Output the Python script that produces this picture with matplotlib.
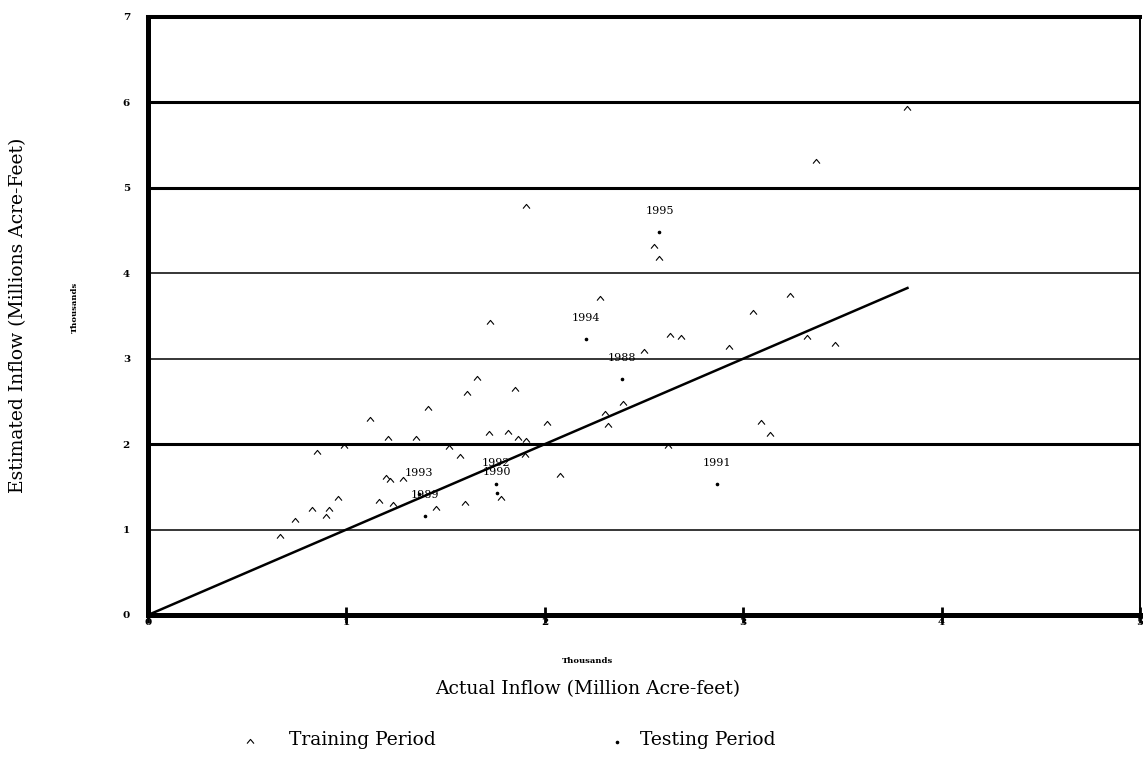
import matplotlib
matplotlib.use("Agg")
import matplotlib.pyplot as plt
from matplotlib.path import Path

# Training period: (actual, estimated) inflow, thousands of MAF
train_actual = [1.409, 1.120, 1.212, 1.350, 0.990, 0.854, 1.200, 1.218, 1.283, 0.957,
                1.162, 1.233, 0.829, 0.913, 0.896, 0.742, 0.666, 1.453,
                1.608, 1.848, 1.660, 1.717, 1.813, 1.865, 1.907, 2.011, 2.395, 2.302,
                2.319, 1.515, 1.574, 1.902, 2.620, 2.079, 1.781, 1.600, 1.725,
                1.907, 2.550, 2.578, 2.277, 2.629, 2.689, 2.499, 2.928,
                3.828, 3.365, 3.236, 3.049, 3.320, 3.461, 3.091, 3.134]
train_est = [2.42, 2.295, 2.07, 2.07, 1.98, 1.91, 1.61, 1.58, 1.59, 1.37,
             1.335, 1.30, 1.24, 1.24, 1.156, 1.11, 0.93, 1.256,
             2.60, 2.64, 2.77, 2.135, 2.146, 2.07, 2.05, 2.25, 2.48, 2.37,
             2.22, 1.97, 1.865, 1.87, 1.98, 1.64, 1.37, 1.315, 3.43,
             4.79, 4.32, 4.18, 3.71, 3.28, 3.26, 3.09, 3.135,
             5.93, 5.32, 3.75, 3.545, 3.26, 3.17, 2.256, 2.116]

# Testing period
test_years = ["1988", "1989", "1990", "1991", "1992", "1993", "1994", "1995"]
test_actual = [2.387, 1.394, 1.761, 2.866, 1.752, 1.367, 2.207, 2.578]
test_est = [2.76, 1.163, 1.43, 1.534, 1.535, 1.417, 3.23, 4.48]

x_ticks = [0, 1, 2, 3, 4, 5]
y_ticks = [0, 1, 2, 3, 4, 5, 6, 7]
grid_widths = [0, 1.1, 2.2, 1.1, 1.1, 2.2, 2.2]

serif = "DejaVu Serif"
plt.rcParams["font.family"] = serif

fig = plt.figure(figsize=(11.43, 7.61), dpi=100)
ax = fig.add_axes([148 / 1143, 1 - 615 / 761, (1140 - 148) / 1143, (615 - 17) / 761])

caret = Path([(-1, -0.6), (0, 0.6), (1, -0.6)],
             [Path.MOVETO, Path.LINETO, Path.LINETO])

for yv, lw in zip(y_ticks[1:], grid_widths[1:]):
    ax.axhline(yv, color="black", lw=lw, zorder=1)

# 1:1 reference line up to the largest observed inflow
xmax = max(train_actual)
ax.plot([0, xmax], [0, xmax], color="black", lw=1.8, zorder=2)

ax.plot(train_actual, train_est, linestyle="none", marker=caret, markersize=5,
        markerfacecolor="none", markeredgecolor="black", markeredgewidth=0.8, zorder=3)
ax.plot(test_actual, test_est, linestyle="none", marker="o", markersize=1.6,
        color="black", zorder=3)

for yr, xa, ye in zip(test_years, test_actual, test_est):
    ax.annotate(yr, (xa, ye), xytext=(0, 15), textcoords="offset points",
                ha="center", va="center", fontsize=8, family=serif)

ax.set_xlim(0, 5)
ax.set_ylim(0, 7)
ax.set_xticks(x_ticks)
ax.set_yticks(y_ticks)
ax.set_xticklabels([str(v) for v in x_ticks], fontsize=7.5, fontweight="bold")
ax.set_yticklabels([str(v) for v in y_ticks], fontsize=7.5, fontweight="bold")
ax.tick_params(axis="x", direction="inout", length=11, width=2, pad=-3)
ax.tick_params(axis="y", length=0, pad=13)

for side, lw in {"left": 3.6, "bottom": 3.6, "top": 2.9, "right": 1.4}.items():
    ax.spines[side].set_linewidth(lw)
    ax.spines[side].set_color("black")

# Axis titles
fig.text(588 / 1143, 1 - 661 / 761, "Thousands", ha="center", va="center",
         fontsize=6, fontweight="bold")
fig.text(588 / 1143, 1 - 689 / 761, "Actual Inflow (Million Acre-feet)",
         ha="center", va="center", fontsize=13.5)
fig.text(18 / 1143, 1 - 315 / 761, "Estimated Inflow (Millions Acre-Feet)",
         ha="center", va="center", rotation=90, fontsize=13.5)
fig.text(75 / 1143, 1 - 307 / 761, "Thousands", ha="center", va="center",
         rotation=90, fontsize=6, fontweight="bold")

# Legend row
leg_ax = fig.add_axes([0, 0, 1, 1], facecolor="none")
leg_ax.set_xlim(0, 1143)
leg_ax.set_ylim(761, 0)
leg_ax.axis("off")
leg_ax.plot([250], [741], linestyle="none", marker=caret, markersize=5,
            markerfacecolor="none", markeredgecolor="black", markeredgewidth=0.8)
leg_ax.text(289, 740, "Training Period", ha="left", va="center", fontsize=13.5)
leg_ax.plot([617], [742], linestyle="none", marker="o", markersize=1.6, color="black")
leg_ax.text(640, 740, "Testing Period", ha="left", va="center", fontsize=13.5)

fig.savefig("out.png", dpi=100)
